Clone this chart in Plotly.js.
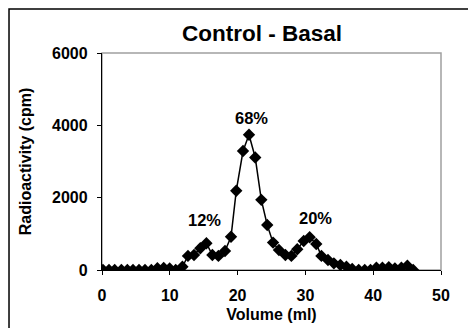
<!DOCTYPE html>
<html>
<head>
<meta charset="utf-8">
<script src="https://cdn.plot.ly/plotly-3.0.1.min.js"></script>
<style>
html,body{margin:0;padding:0;background:#fff;}
#chart{width:468px;height:328px;}
</style>
</head>
<body>
<div id="chart"></div>
<script>
// Volume (ml) of each fraction
var volume = [0.15, 1.03, 1.87, 2.86, 3.74, 4.57, 5.46, 6.34, 7.28, 8.17, 9.1, 9.98, 10.87, 11.86, 12.68, 13.57, 14.5, 15.4, 16.28, 17.17, 18.14, 19.03, 19.8, 20.8, 21.68, 22.6, 23.5, 24.37,
              25.23, 26.1, 27.05, 27.93, 28.8, 29.75, 30.63, 31.6, 32.36, 33.33, 34.2, 35.16, 36.05, 36.9, 37.86, 38.75, 39.6, 40.47, 41.36, 42.3, 43.2, 44.16, 45.04, 45.9];
// Radioactivity (cpm)
var cpm = [0, 0, 0, 0, 0, 0, 0, 0, 0, 50, 55, 40, 0, 90, 390, 415, 600, 740, 415, 390, 525, 920, 2190, 3290, 3740, 3110, 1940, 1245,
           757, 554, 415, 390, 573, 803, 905, 720, 390, 277, 185, 138, 92, 28, 0, 0, 0, 65, 65, 75, 45, 65, 120, 0];
var peakLabels = ["12%", "68%", "20%"];
var peakX = [15.15, 22.0, 31.45];
var peakY = [1380, 4190, 1440];

var fontFam = "Liberation Sans, Arial, sans-serif";

var trace = {
  x: volume, y: cpm, type: "scatter", mode: "lines+markers",
  line: {color: "#000", width: 1.5},
  marker: {symbol: "diamond", size: 9.5, color: "#000"},
  showlegend: false, hoverinfo: "skip"
};

var annotations = peakLabels.map(function(t, i){
  return {x: peakX[i], y: peakY[i], xref: "x", yref: "y", text: t, showarrow: false,
          font: {family: fontFam, size: 16.5, color: "#000", weight: "bold"}};
});

var layout = {
  width: 468, height: 328,
  margin: {l: 102, r: 27, t: 53, b: 58},
  paper_bgcolor: "#fff", plot_bgcolor: "#fff",
  title: {text: "Control - Basal", x: 0.56, xanchor: "center", y: 0.9, yanchor: "middle",
          font: {family: fontFam, size: 22.5, color: "#000", weight: "bold"}},
  xaxis: {
    range: [0, 50], tickvals: [0, 10, 20, 30, 40, 50], showgrid: false, zeroline: false,
    showline: true, linecolor: "#000", linewidth: 1.2,
    ticks: "outside", ticklen: 4, tickcolor: "#000", tickwidth: 1,
    ticklabelstandoff: 7,
    tickfont: {family: fontFam, size: 16, color: "#000", weight: "bold"},
    title: {text: "Volume (ml)", standoff: 5, font: {family: fontFam, size: 16, color: "#000", weight: "bold"}}
  },
  yaxis: {
    range: [0, 6000], tickvals: [0, 2000, 4000, 6000], showgrid: false, zeroline: false,
    showline: true, linecolor: "#000", linewidth: 1.2,
    ticks: "outside", ticklen: 4, tickcolor: "#000", tickwidth: 1,
    ticklabelstandoff: 6,
    tickfont: {family: fontFam, size: 16, color: "#000", weight: "bold"},
    title: {text: "Radioactivity (cpm)", standoff: 16, font: {family: fontFam, size: 16, color: "#000", weight: "bold"}}
  },
  shapes: [
    {type: "rect", xref: "paper", yref: "paper", x0: 0, x1: 1, y0: 0, y1: 1,
     line: {color: "#a0a0a0", width: 1.5}, layer: "below"},
    {type: "rect", xref: "paper", yref: "paper", x0: -0.2743, x1: 1.12, y0: -0.32, y1: 1.2028,
     line: {color: "#000", width: 1.5}, layer: "above"}
  ],
  annotations: annotations
};

Plotly.newPlot("chart", [trace], layout, {displayModeBar: false, staticPlot: true});
</script>
</body>
</html>
